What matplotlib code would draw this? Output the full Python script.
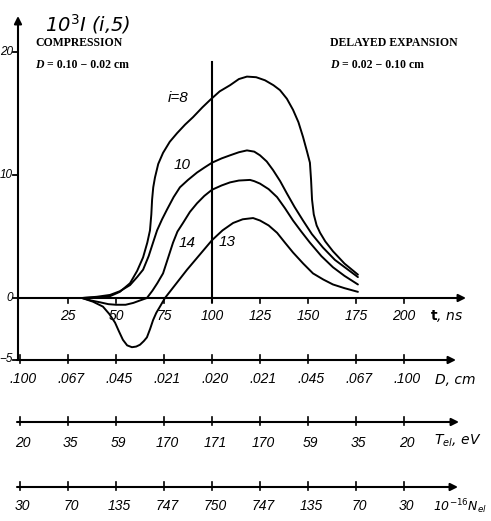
import matplotlib
matplotlib.use("Agg")
import matplotlib.pyplot as plt

# ---------------- data ----------------
t_i8 = [32.3, 40.0, 46.9, 52.0, 57.3, 61.0, 64.1, 66.3, 67.7, 68.4, 68.8, 69.4, 70.3, 72.0, 74.5, 78.0, 81.8, 86.0,
        90.1, 95.0, 99.0, 104.0, 109.4, 114.0, 118.2, 123.0, 127.6, 132.0, 135.4, 139.0, 142.2, 145.0, 147.4, 149.5,
        151.0, 151.6, 152.1, 153.0, 154.5, 156.3, 159.0, 163.0, 169.0, 176.0]
I_i8 = [0.0, 0.05, 0.15, 0.5, 1.2, 2.2, 3.3, 4.5, 5.5, 6.8, 8.0, 9.0, 9.8, 10.9, 11.8, 12.7, 13.4, 14.1,
        14.7, 15.5, 16.1, 16.8, 17.3, 17.8, 18.0, 17.95, 17.7, 17.3, 16.9, 16.2, 15.3, 14.3, 13.1, 11.9,
        11.0, 9.6, 8.0, 6.8, 5.9, 5.3, 4.6, 3.8, 2.8, 1.9]

t_i10 = [32.3, 40.0, 46.9, 52.0, 57.3, 61.0, 64.1, 67.0, 69.5, 71.4, 74.0, 76.6, 80.0, 83.3, 87.5, 92.2, 96.0, 100.0,
         105.0, 109.4, 114.0, 118.2, 122.0, 125.0, 128.5, 131.8, 135.5, 139.0, 143.0, 147.4, 152.0, 157.8, 164.0,
         170.0, 176.0]
I_i10 = [0.0, 0.1, 0.25, 0.55, 1.05, 1.7, 2.3, 3.4, 4.6, 5.5, 6.4, 7.2, 8.2, 9.0, 9.6, 10.2, 10.6, 11.0,
         11.35, 11.6, 11.85, 12.0, 11.9, 11.6, 11.1, 10.4, 9.5, 8.5, 7.4, 6.3, 5.2, 4.1, 3.1,
         2.4, 1.7]

t_i14 = [32.3, 37.0, 41.7, 46.0, 50.0, 55.0, 59.0, 62.5, 66.1, 69.0, 71.5, 74.5, 77.0, 79.7, 82.0, 84.9, 88.5, 92.2,
         96.0, 100.0, 105.0, 109.4, 114.0, 119.8, 122.0, 125.0, 129.5, 133.9, 138.0, 142.2, 146.5, 151.0, 157.0,
         163.0, 169.0, 176.0]
I_i14 = [0.0, -0.2, -0.35, -0.5, -0.55, -0.55, -0.4, -0.2, 0.0, 0.6, 1.2, 2.0, 3.2, 4.5, 5.4, 6.1, 7.0, 7.7,
         8.3, 8.8, 9.15, 9.4, 9.55, 9.6, 9.5, 9.3, 8.85, 8.2, 7.3, 6.3, 5.4, 4.5, 3.4,
         2.5, 1.8, 1.1]

t_i13 = [32.3, 38.0, 43.2, 46.5, 49.5, 51.5, 53.6, 55.8, 58.3, 60.5, 62.5, 64.5, 66.1, 67.8, 69.3, 71.0, 72.9, 75.5,
         81.0, 87.0, 93.5, 100.0, 105.5, 111.0, 116.0, 121.4, 125.0, 129.5, 133.9, 138.0, 142.2, 147.5, 152.6,
         158.0, 163.0, 169.0, 176.0]
I_i13 = [0.0, -0.3, -0.7, -1.3, -2.0, -2.7, -3.4, -3.85, -4.0, -3.95, -3.8, -3.5, -3.2, -2.5, -1.8, -1.2, -0.7, 0.0,
         1.1, 2.3, 3.5, 4.7, 5.5, 6.1, 6.4, 6.5, 6.3, 5.9, 5.3, 4.5, 3.7, 2.8, 2.0,
         1.5, 1.1, 0.8, 0.5]

curve_labels = ["i=8", "10", "14", "13"]

t_ticks = [25, 50, 75, 100, 125, 150, 175, 200]
t_ticklabels = ["25", "50", "75", "100", "125", "150", "175", "200"]
y_ticks = [20, 10, 0, -5]
y_ticklabels = ["20", "10", "0", "−5"]

scale_pos = [0, 25, 50, 75, 100, 125, 150, 175, 200]
D_labels = [".100", ".067", ".045", ".021", ".020", ".021", ".045", ".067", ".100"]
Tel_labels = ["20", "35", "59", "170", "171", "170", "59", "35", "20"]
Nel_labels = ["30", "70", "135", "747", "750", "747", "135", "70", "30"]

# ---------------- figure ----------------
W, H = 491, 521
fig = plt.figure(figsize=(W / 100, H / 100), dpi=100)
ax = fig.add_axes([0, 0, 1, 1])
ax.set_axis_off()
# pixel mapping: x = 20 + 1.92 t ; y_from_top = 298 - 12.3 I
ax.set_xlim(-20 / 1.92, (W - 20) / 1.92)
ax.set_ylim((298 - H) / 12.3, 298 / 12.3)

def px_t(x):
    return (x - 20) / 1.92

def px_I(y):
    return (298 - y) / 12.3

hand = dict(family="Liberation Sans", style="italic", color="black")
lw_curve = 1.4
lw_axis = 1.5

# curves
for tt, II in [(t_i8, I_i8), (t_i10, I_i10), (t_i14, I_i14), (t_i13, I_i13)]:
    ax.plot(tt, II, color="black", lw=lw_curve, solid_joinstyle="round", solid_capstyle="round")

# vertical line at t=100
ax.plot([100, 100], [px_I(62), px_I(302)], color="black", lw=1.5)

def arrow_axis(x0, x1, y0, y1):
    ax.annotate("", xy=(x1, y1), xytext=(x0, y0),
                arrowprops=dict(arrowstyle="-|>", color="black", lw=lw_axis,
                                mutation_scale=11, shrinkA=0, shrinkB=0))

# y axis
yax_t = px_t(18)
arrow_axis(yax_t, yax_t, -5.0, px_I(16))
for yv, lab in zip(y_ticks, y_ticklabels):
    ax.plot([px_t(13), yax_t], [yv, yv], color="black", lw=1.3)
    ax.text(px_t(13), yv, lab, ha="right", va="center", fontsize=8.5, **hand)

# t axis
arrow_axis(yax_t, px_t(466), 0, 0)
for tv, lab in zip(t_ticks, t_ticklabels):
    ax.plot([tv, tv], [0, -0.4], color="black", lw=1.2)
    ax.text(tv, px_I(316), lab, ha="center", va="center", fontsize=10, **hand)
ax.text(px_t(447), px_I(316), r"$\mathbf{t}$, ns", ha="center", va="center", fontsize=10,
        family="DejaVu Sans", style="italic")

# lower scales
def scale(ypix, x_end, labels, lab_ypix, name, name_x, name_y, name_size=10):
    yv = px_I(ypix)
    arrow_axis(px_t(17), px_t(x_end), yv, yv)
    for tv, lab in zip(scale_pos, labels):
        ax.plot([tv, tv], [yv - 0.25, yv + 0.4], color="black", lw=1.2)
        ax.text(tv + 1.5, px_I(lab_ypix), lab, ha="center", va="center", fontsize=10, **hand)
    ax.text(px_t(name_x), px_I(name_y), name, ha="center", va="center", fontsize=name_size,
            family="DejaVu Sans", style="italic")

scale(360, 456, D_labels, 379, "D, cm", 455, 380)
scale(422, 459, Tel_labels, 443, r"T$_{el}$, eV", 458, 441)
scale(487, 458, Nel_labels, 506, r"10$^{-16}$N$_{el}$", 460, 507, 9)

# y-axis title
ax.text(px_t(45), px_I(24), r"10$^{3}$I (i,5)", ha="left", va="center", fontsize=14,
        family="DejaVu Sans", style="italic")

# headers
serif_b = dict(family="Liberation Serif", weight="bold", color="black", fontsize=8.5)
ax.text(px_t(35), px_I(43), "COMPRESSION", ha="left", va="center", **serif_b)
ax.text(px_t(35), px_I(65), "D", ha="left", va="center", style="italic", **serif_b)
ax.text(px_t(47), px_I(65), "= 0.10 − 0.02 cm", ha="left", va="center", **serif_b)
ax.text(px_t(330), px_I(43), "DELAYED EXPANSION", ha="left", va="center", **serif_b)
ax.text(px_t(330), px_I(65), "D", ha="left", va="center", style="italic", **serif_b)
ax.text(px_t(342), px_I(65), "= 0.02 − 0.10 cm", ha="left", va="center", **serif_b)

# curve labels
for lab, (xp, yp) in zip(curve_labels, [(178, 98), (182, 165), (187, 243), (227, 242)]):
    ax.text(px_t(xp), px_I(yp), lab, ha="center", va="center", fontsize=11, **hand)

fig.savefig("out.png", dpi=100)
